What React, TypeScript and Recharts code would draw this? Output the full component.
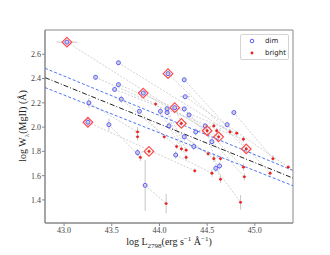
import React from 'react';
import { ScatterChart, Scatter, XAxis, YAxis, ReferenceLine, ReferenceArea, ErrorBar } from 'recharts';

if (typeof document !== 'undefined') document.body.style.margin = '0';

// dim epoch (blue open circles)
const dimX = [43.03, 43.57, 43.33, 43.57, 43.53, 43.60, 43.26, 43.25, 43.47, 44.09, 44.26, 43.83, 44.27, 44.16, 44.26, 43.79, 44.01, 44.08, 44.08, 44.31, 44.48, 44.78, 44.71, 44.10, 44.26, 43.77, 43.85, 44.17, 44.36, 44.38, 44.59, 44.63, 44.55];
const dimY = [2.70, 2.53, 2.41, 2.35, 2.31, 2.23, 2.20, 2.04, 2.02, 2.44, 2.39, 2.28, 2.25, 2.16, 2.15, 2.13, 2.13, 2.15, 2.12, 2.10, 2.01, 2.12, 2.02, 2.01, 1.92, 1.79, 1.52, 1.77, 1.84, 1.96, 1.66, 1.68, 1.88];
const dimXErr = [0.11, 0.02, 0.02, 0.02, 0.02, 0.03, 0.02, 0.02, 0.02, 0.02, 0.02, 0.03, 0.05, 0.02, 0.02, 0.02, 0.02, 0.02, 0.02, 0.02, 0.02, 0.02, 0.02, 0.02, 0.02, 0.02, 0.02, 0.02, 0.02, 0.02, 0.02, 0.02, 0.02];
const dimYErr = [0.02, 0.02, 0.02, 0.02, 0.02, 0.03, 0.04, 0.04, 0.05, 0.02, 0.02, 0.02, 0.02, 0.02, 0.02, 0.02, 0.03, 0.03, 0.02, 0.02, 0.02, 0.02, 0.02, 0.03, 0.03, 0.03, 0.21, 0.03, 0.03, 0.03, 0.03, 0.03, 0.03];

// bright epoch (red dots); index i is the same object as dim index i (first 31)
const brightX = [44.50, 44.74, 43.96, 44.81, 44.88, 44.18, 43.77, 44.37, 43.80, 44.91, 45.16, 44.62, 45.35, 44.23, 44.88, 44.05, 44.23, 44.28, 44.28, 44.89, 44.64, 45.19, 44.60, 44.51, 44.57, 43.89, 44.07, 44.55, 44.64, 44.57, 44.85, 43.77];
const brightY = [1.97, 1.96, 2.19, 1.95, 1.90, 1.84, 1.96, 1.64, 1.75, 1.82, 1.62, 1.92, 1.67, 2.03, 1.67, 1.92, 1.82, 1.81, 1.75, 1.59, 1.57, 1.74, 1.97, 1.78, 1.74, 1.80, 1.37, 1.62, 1.74, 2.01, 1.38, 1.92];
const brightXErr = [0.02, 0.02, 0.02, 0.02, 0.02, 0.02, 0.03, 0.02, 0.02, 0.02, 0.02, 0.02, 0.02, 0.02, 0.02, 0.02, 0.02, 0.02, 0.02, 0.02, 0.02, 0.02, 0.02, 0.02, 0.02, 0.02, 0.02, 0.02, 0.02, 0.02, 0.02, 0.02];
const brightYErr = [0.02, 0.02, 0.02, 0.02, 0.02, 0.02, 0.04, 0.02, 0.03, 0.02, 0.02, 0.02, 0.02, 0.02, 0.03, 0.02, 0.02, 0.02, 0.02, 0.03, 0.03, 0.03, 0.02, 0.02, 0.03, 0.02, 0.08, 0.03, 0.02, 0.02, 0.06, 0.03];
const pairedCount = 31;

// highlighted objects (red diamonds)
const highlightDim = [0, 7, 9, 11, 13];
const highlightBright = [0, 9, 11, 13, 25];

// regression line and confidence band
const fitX = [42.8, 45.4];
const fitY = [2.408, 1.580];
const bandUpperY = [2.485, 1.643];
const bandLowerY = [2.326, 1.517];

const xTicks = [43.0, 43.5, 44.0, 44.5, 45.0];
const yTicks = [1.4, 1.6, 1.8, 2.0, 2.2, 2.4, 2.6];
const xDomain = [42.8, 45.4];
const yDomain = [1.21, 2.8];

const BlueCircle = (p: any) => (
  <circle cx={p.cx} cy={p.cy} r={2} fill="none" stroke="#5a5aff" strokeWidth={1} />
);
const RedDot = (p: any) => (
  <circle cx={p.cx} cy={p.cy} r={1.4} fill="#f02020" />
);
const Diamond = (p: any) => {
  const s = 4.8;
  return (
    <path
      d={`M${p.cx},${p.cy - s}L${p.cx + s},${p.cy}L${p.cx},${p.cy + s}L${p.cx - s},${p.cy}Z`}
      fill="none"
      stroke="#ff4a4a"
      strokeWidth={1.2}
    />
  );
};

const serif = '"Liberation Serif", "DejaVu Serif", serif';

export default function App() {
  const dimData = dimX.map((x, i) => ({ x, y: dimY[i], ex: dimXErr[i], ey: dimYErr[i] }));
  const brightData = brightX.map((x, i) => ({ x, y: brightY[i], ex: brightXErr[i], ey: brightYErr[i] }));
  const diamondData = [
    ...highlightDim.map((i) => ({ x: dimX[i], y: dimY[i] })),
    ...highlightBright.map((i) => ({ x: brightX[i], y: brightY[i] })),
  ];
  const pairs = dimX.slice(0, pairedCount).map((x, i) => [
    { x, y: dimY[i] },
    { x: brightX[i], y: brightY[i] },
  ]);

  return (
    <div style={{ position: 'relative', width: 330, height: 255, background: '#fff' }}>
      <ScatterChart width={330} height={255} margin={{ top: 30, right: 37, bottom: 0, left: 0 }}>
        <XAxis
          type="number"
          dataKey="x"
          domain={xDomain}
          ticks={xTicks}
          tickFormatter={(v: number) => v.toFixed(1)}
          height={32}
          tickSize={3}
          tickMargin={1}
          stroke="#888"
          tick={{ fill: '#444', fontSize: 8, fontFamily: serif }}
          allowDataOverflow
        />
        <YAxis
          type="number"
          dataKey="y"
          domain={yDomain}
          ticks={yTicks}
          tickFormatter={(v: number) => v.toFixed(1)}
          width={45}
          tickSize={3}
          tickMargin={1}
          stroke="#888"
          tick={{ fill: '#444', fontSize: 8, fontFamily: serif }}
          allowDataOverflow
        />
        <ReferenceArea x1={xDomain[0]} x2={xDomain[1]} y1={yDomain[0]} y2={yDomain[1]} fill="none" fillOpacity={0} stroke="#888" strokeWidth={1} />
        {pairs.map((seg, i) => (
          <ReferenceLine key={'p' + i} segment={seg} stroke="#c6c6c6" strokeWidth={0.8} strokeDasharray="2 1.5" />
        ))}
        <ReferenceLine segment={[{ x: fitX[0], y: bandUpperY[0] }, { x: fitX[1], y: bandUpperY[1] }]} stroke="#3a64f0" strokeWidth={0.9} strokeDasharray="3 2" />
        <ReferenceLine segment={[{ x: fitX[0], y: bandLowerY[0] }, { x: fitX[1], y: bandLowerY[1] }]} stroke="#3a64f0" strokeWidth={0.9} strokeDasharray="3 2" />
        <ReferenceLine segment={[{ x: fitX[0], y: fitY[0] }, { x: fitX[1], y: fitY[1] }]} stroke="#222" strokeWidth={1} strokeDasharray="5 2 1 2" />
        <Scatter data={dimData} shape={BlueCircle} isAnimationActive={false}>
          <ErrorBar dataKey="ey" direction="y" width={0} stroke="#c8c8c8" strokeWidth={1} isAnimationActive={false} />
          <ErrorBar dataKey="ex" direction="x" width={0} stroke="#c8c8c8" strokeWidth={1} isAnimationActive={false} />
        </Scatter>
        <Scatter data={brightData} shape={RedDot} isAnimationActive={false}>
          <ErrorBar dataKey="ey" direction="y" width={0} stroke="#c8c8c8" strokeWidth={1} isAnimationActive={false} />
          <ErrorBar dataKey="ex" direction="x" width={0} stroke="#c8c8c8" strokeWidth={1} isAnimationActive={false} />
        </Scatter>
        <Scatter data={diamondData} shape={Diamond} isAnimationActive={false} />
      </ScatterChart>

      <div
        style={{
          position: 'absolute', left: 240, top: 34, width: 47, height: 24,
          border: '1px solid #d4d4d4', borderRadius: 2, background: 'rgba(255,255,255,0.85)',
          fontFamily: '"DejaVu Sans", sans-serif', fontSize: 7, color: '#222',
        }}
      >
        <svg width={12} height={24} style={{ position: 'absolute', left: 5, top: 0 }}>
          <circle cx={6} cy={6} r={1.8} fill="none" stroke="#5a5aff" strokeWidth={1} />
          <circle cx={6} cy={18} r={1.4} fill="#f02020" />
        </svg>
        <div style={{ position: 'absolute', left: 24, top: 1, lineHeight: '10px' }}>dim</div>
        <div style={{ position: 'absolute', left: 24, top: 13, lineHeight: '10px' }}>bright</div>
      </div>

      <div
        style={{
          position: 'absolute', left: 0, top: 232, width: 338, textAlign: 'center',
          fontFamily: serif, fontSize: 10, color: '#222', lineHeight: '14px', whiteSpace: 'nowrap',
        }}
      >
        log L<sub style={{ fontSize: 7 }}>2798</sub>(erg s<sup style={{ fontSize: 7 }}>−1</sup> Å<sup style={{ fontSize: 7 }}>−1</sup>)
      </div>

      <div
        style={{
          position: 'absolute', left: 23 - 100, top: 126 - 7, width: 200, height: 14, textAlign: 'center',
          fontFamily: serif, fontSize: 10, color: '#222', lineHeight: '14px', whiteSpace: 'nowrap',
          transform: 'rotate(-90deg)',
        }}
      >
        log W<sub style={{ fontSize: 7 }}>λ</sub>(MgII) (Å)
      </div>
    </div>
  );
}
